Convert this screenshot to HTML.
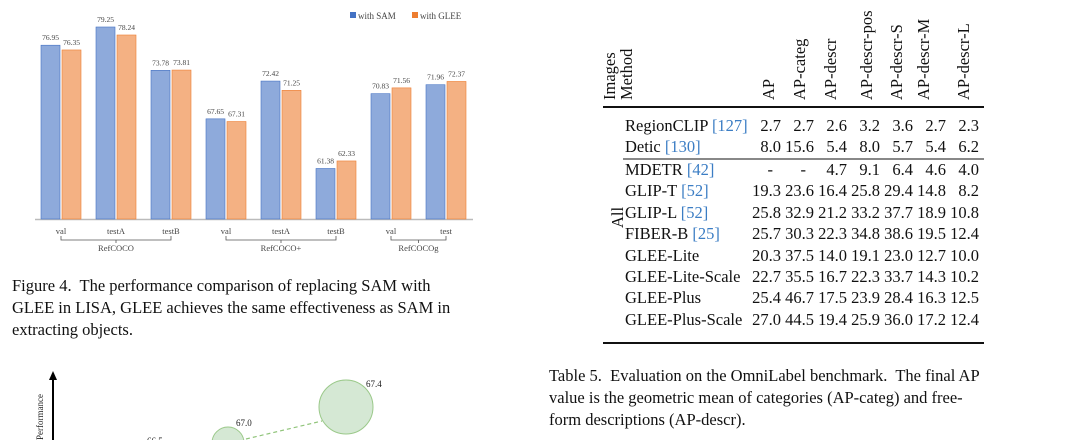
<!DOCTYPE html>
<html><head><meta charset="utf-8">
<style>
body{margin:0;width:1080px;height:440px;background:#fff;position:relative;overflow:hidden;font-family:"Liberation Serif",serif;color:#111}
.a{position:absolute;white-space:nowrap}
.cap{font-size:16.5px;line-height:22px}
.row{position:absolute;left:0;width:1080px;height:21px;font-size:16.5px}
.rot{position:absolute;transform:rotate(-90deg);transform-origin:left top;font-size:16.5px;white-space:nowrap}
.num{position:absolute;text-align:right;width:40px}
.cite{color:#3b7dc4}
</style></head><body>
<svg width="520" height="260" style="position:absolute;left:0;top:0" font-family="Liberation Serif, serif">
<g id="bars"></g>
</svg>
<script>
const cats=["val","testA","testB","val","testA","testB","val","test"];
const sam=[76.95,79.25,73.78,67.65,72.42,61.38,70.83,71.96];
const glee=[76.35,78.24,73.81,67.31,71.25,62.33,71.56,72.37];
const groups=["RefCOCO","RefCOCO+","RefCOCOg"];
const groupSpan=[[0,2],[3,5],[6,7]];
const ns="http://www.w3.org/2000/svg";
const g=document.getElementById('bars');
const yMin=55,yMax=79.25,yBase=219,yTop=27;
const y=v=>yBase-(v-yMin)*(yBase-yTop)/(yMax-yMin);
const x=i=>61+i*55;
function mk(t,a){const e=document.createElementNS(ns,t);for(const k in a)e.setAttribute(k,a[k]);g.appendChild(e);return e;}
const ax=mk('line',{x1:35,x2:473,y1:yBase+0.5,y2:yBase+0.5,stroke:'#bbb','stroke-width':1.5});


cats.forEach((c,i)=>{
 [[sam[i],'#8eaadb','#4472c4',-20],[glee[i],'#f4b183','#ed7d31',1]].forEach((s,j)=>{
  const r=mk('rect',{x:x(i)+s[3],y:y(s[0]),width:19,height:yBase-y(s[0]),fill:s[1],stroke:s[2],'stroke-width':0.6});
  
  
  const t=mk('text',{x:x(i)+s[3]+9.5,y:y(s[0])-5,'font-size':7.5,'text-anchor':'middle',fill:'#444'});
  t.textContent=s[0].toFixed(2);
  
  
 });
 const t=mk('text',{x:x(i),y:234,'font-size':8.5,'text-anchor':'middle',fill:'#444'});
 t.textContent=c;
 
 
});
groups.forEach((n,k)=>{
 const a=x(groupSpan[k][0]),b=x(groupSpan[k][1]),m=(a+b)/2;
 const p=mk('path',{d:`M${a} 236V240H${b}V236M${m} 240V243`,fill:'none',stroke:'#555','stroke-width':0.8});
 
 
 const t=mk('text',{x:m,y:251,'font-size':8.5,'text-anchor':'middle',fill:'#444'});
 t.textContent=n;
 
 
});
[['with SAM','#4472c4',350],['with GLEE','#ed7d31',412]].forEach(l=>{
 const r=mk('rect',{x:l[2],y:12,width:6,height:6,fill:l[1]});
 
 
 const t=mk('text',{x:l[2]+8,y:19,'font-size':9,fill:'#444'});
 t.textContent=l[0];
 
 
});
</script>

<div class="a cap" style="left:12px;top:275px">Figure 4.&nbsp; The performance comparison of replacing SAM with<br>GLEE in LISA, GLEE achieves the same effectiveness as SAM in<br>extracting objects.</div>

<div class="a cap" style="left:549px;top:365px">Table 5.&nbsp; Evaluation on the OmniLabel benchmark.&nbsp; The final AP<br>value is the geometric mean of categories (AP-categ) and free-<br>form descriptions (AP-descr).</div>

<div>
<div class="rot" style="left:600px;top:100px">Images</div>
<div class="rot" style="left:617px;top:100px">Method</div>
<div class="rot" style="left:759px;top:100px">AP</div>
<div class="rot" style="left:790px;top:100px">AP-categ</div>
<div class="rot" style="left:821px;top:100px">AP-descr</div>
<div class="rot" style="left:857px;top:100px">AP-descr-pos</div>
<div class="rot" style="left:887px;top:100px">AP-descr-S</div>
<div class="rot" style="left:914px;top:100px">AP-descr-M</div>
<div class="rot" style="left:954px;top:100px">AP-descr-L</div>
<div class="a" style="left:603px;top:106px;width:381px;height:2px;background:#111"></div>
<div class="a" style="left:623px;top:158px;width:361px;height:1.5px;background:#888"></div>
<div class="a" style="left:603px;top:342px;width:381px;height:2px;background:#111"></div>
<div class="rot" style="left:608px;top:228px">All</div>
<div id="rows"></div>
</div>
<script>
const rows=[
["RegionCLIP <span class=cite>[127]</span>","2.7","2.7","2.6","3.2","3.6","2.7","2.3"],
["Detic <span class=cite>[130]</span>","8.0","15.6","5.4","8.0","5.7","5.4","6.2"],
["MDETR <span class=cite>[42]</span>","-","-","4.7","9.1","6.4","4.6","4.0"],
["GLIP-T <span class=cite>[52]</span>","19.3","23.6","16.4","25.8","29.4","14.8","8.2"],
["GLIP-L <span class=cite>[52]</span>","25.8","32.9","21.2","33.2","37.7","18.9","10.8"],
["FIBER-B <span class=cite>[25]</span>","25.7","30.3","22.3","34.8","38.6","19.5","12.4"],
["GLEE-Lite","20.3","37.5","14.0","19.1","23.0","12.7","10.0"],
["GLEE-Lite-Scale","22.7","35.5","16.7","22.3","33.7","14.3","10.2"],
["GLEE-Plus","25.4","46.7","17.5","23.9","28.4","16.3","12.5"],
["GLEE-Plus-Scale","27.0","44.5","19.4","25.9","36.0","17.2","12.4"]];
const colR=[781,814,847,880,913,946,979];
const tops=[116,137,160,181,203,224,246,267,288,310];
let h='';
rows.forEach((r,i)=>{
 h+=`<div class="row" style="top:${tops[i]}px"><span class="a" style="left:625px">${r[0]}</span>`;
 for(let j=1;j<8;j++){const v=r[j];const w=v==='-'?(colR[j-1]-8):colR[j-1];h+=`<span class="num" style="left:${w-40}px">${v}</span>`;}
 h+='</div>';
});
document.getElementById('rows').innerHTML=h;
</script>

<svg width="420" height="80" style="position:absolute;left:0;top:360px" font-family="Liberation Serif, serif">
<line x1="53" y1="80" x2="53" y2="16" stroke="#000" stroke-width="2"/>
<polygon points="53,11 49,20 57,20" fill="#000"/>
<text transform="translate(43,80) rotate(-90)" font-size="9" fill="#222">Performance</text>
<line x1="246" y1="79" x2="322" y2="61" stroke="#90c47a" stroke-width="1.2" stroke-dasharray="4,3"/>
<circle cx="346" cy="47" r="27" fill="#d5e8d4" stroke="#9bc98a" stroke-width="1"/>
<text x="366" y="27" font-size="9" fill="#222">67.4</text>
<circle cx="228" cy="83" r="16" fill="#d5e8d4" stroke="#9bc98a" stroke-width="1"/>
<text x="236" y="66" font-size="9" fill="#222">67.0</text>
<text x="147" y="84" font-size="9" fill="#222">66.5</text>
</svg>
</body></html>
